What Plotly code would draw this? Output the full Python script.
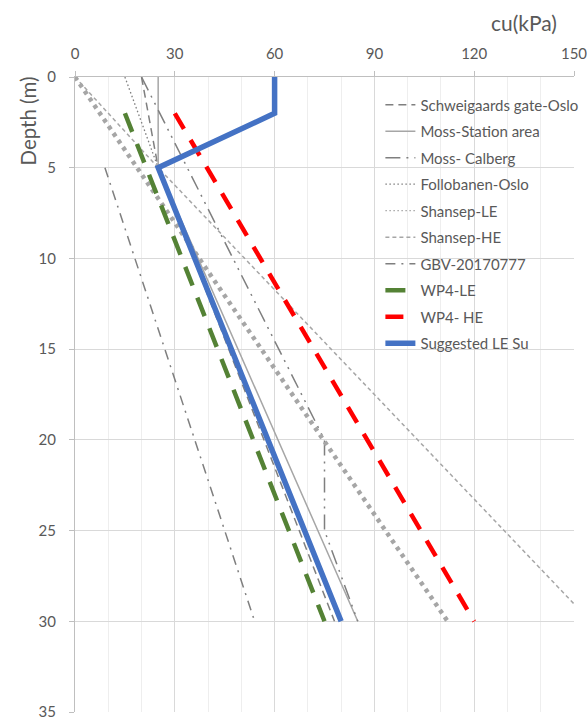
import plotly.graph_objects as go

# ---- data (depth in m, cu in kPa) ----
schweigaards_cu = [20, 25, 78]
schweigaards_z = [0, 5, 30]
moss_station_cu = [25, 25, 85]
moss_station_z = [0, 5, 30]
moss_calberg_cu = [20, 75, 75, 85]
moss_calberg_z = [0, 20, 25, 30]
follobanen_cu = [15, 25]
follobanen_z = [0, 5]
shansep_le_cu = [0, 112]
shansep_le_z = [0, 30]
shansep_he_cu = [0, 25, 155]
shansep_he_z = [0, 5, 30]
gbv_cu = [9, 54]
gbv_z = [5, 30]
wp4_le_cu = [15, 75]
wp4_le_z = [2, 30]
wp4_he_cu = [30, 120]
wp4_he_z = [2, 30]
suggested_cu = [60, 60, 25, 80]
suggested_z = [0, 2, 5, 30]

x_ticks = [0, 30, 60, 90, 120, 150]
y_ticks = [0, 5, 10, 15, 20, 25, 30, 35]

DARK = "#7f7f7f"
LIGHT = "#a6a6a6"
TXT = "#595959"
FONT = "Lato"

fig = go.Figure()

def add(name, x, y, color, width, dash, group, showlegend=True):
    fig.add_trace(go.Scatter(
        x=x, y=y, mode="lines", name=name, legendgroup=group,
        showlegend=showlegend,
        line=dict(color=color, width=width, dash=dash),
        hoverinfo="skip"))

add("Schweigaards gate-Oslo", schweigaards_cu, schweigaards_z, DARK, 1.5, "8px,5px", "g1")
add("Moss-Station area", moss_station_cu, moss_station_z, LIGHT, 1.5, "solid", "g2")
add("Moss- Calberg", moss_calberg_cu, moss_calberg_z, DARK, 1.5, "15px,6px,2px,6px,2px,6px", "g3")
add("Follobanen-Oslo", follobanen_cu, follobanen_z, DARK, 1.3, "1.5px,2.5px", "g4")
# Shansep-LE: thick dotted line, thin dotted legend sample
add("Shansep-LE", shansep_le_cu, shansep_le_z, LIGHT, 4.5, "4px,4.5px", "g5", showlegend=False)
add("Shansep-LE", [None], [None], LIGHT, 1.3, "1.5px,2.5px", "g5")
add("Shansep-HE", shansep_he_cu, shansep_he_z, LIGHT, 1.5, "4px,3px", "g6")
add("GBV-20170777", gbv_cu, gbv_z, DARK, 1.5, "10px,6px,2px,6px", "g7")
add("WP4-LE", wp4_le_cu, wp4_le_z, "#548235", 4.5, "20px,13px", "g8")
add("WP4- HE", wp4_he_cu, wp4_he_z, "#ff0000", 4.5, "18px,13px", "g9")
add("Suggested LE Su", suggested_cu, suggested_z, "#4472c4", 5.5, "solid", "g10")

fig.update_layout(
    width=587, height=717,
    margin=dict(l=75, r=13, t=77, b=5, autoexpand=False),
    paper_bgcolor="white", plot_bgcolor="white",
    font=dict(family=FONT, color=TXT, size=14),
    showlegend=True,
    legend=dict(
        x=0.612, y=0.982, xanchor="left", yanchor="top",
        bgcolor="rgba(0,0,0,0)", font=dict(size=15, color=TXT, family=FONT),
        tracegroupgap=4, traceorder="grouped",
    ),
    xaxis=dict(
        side="top", range=[0, 150], tickvals=x_ticks,
        showgrid=True, gridcolor="#d9d9d9", gridwidth=1,
        minor=dict(dtick=10, showgrid=True, gridcolor="#eeeeee", gridwidth=1),
        showline=True, linecolor="#bfbfbf", linewidth=1,
        ticks="outside", ticklen=5, tickcolor="#bfbfbf",
        ticklabelstandoff=6, tickfont=dict(size=15, color=TXT),
        ticklabeloverflow="allow",
        zeroline=False, mirror=False, automargin=False,
    ),
    yaxis=dict(
        range=[35, 0], tickvals=y_ticks,
        showgrid=True, gridcolor="#d9d9d9", gridwidth=1,
        showline=True, linecolor="#bfbfbf", linewidth=1,
        ticks="outside", ticklen=5, tickcolor="#bfbfbf",
        ticklabelstandoff=10, tickfont=dict(size=15, color=TXT),
        ticklabeloverflow="allow", automargin=False,
        zeroline=False,
    ),
    annotations=[
        dict(text="Depth (m)", xref="paper", yref="paper", x=-0.094, y=0.93,
             textangle=-90, showarrow=False, font=dict(size=20.5, color=TXT, family=FONT),
             xanchor="center", yanchor="middle"),
        dict(text="cu(kPa)", xref="paper", yref="paper", x=0.90, y=1.0866,
             showarrow=False, font=dict(size=21, color=TXT, family=FONT),
             xanchor="center", yanchor="middle"),
    ],
)

fig.write_html("out.html")
